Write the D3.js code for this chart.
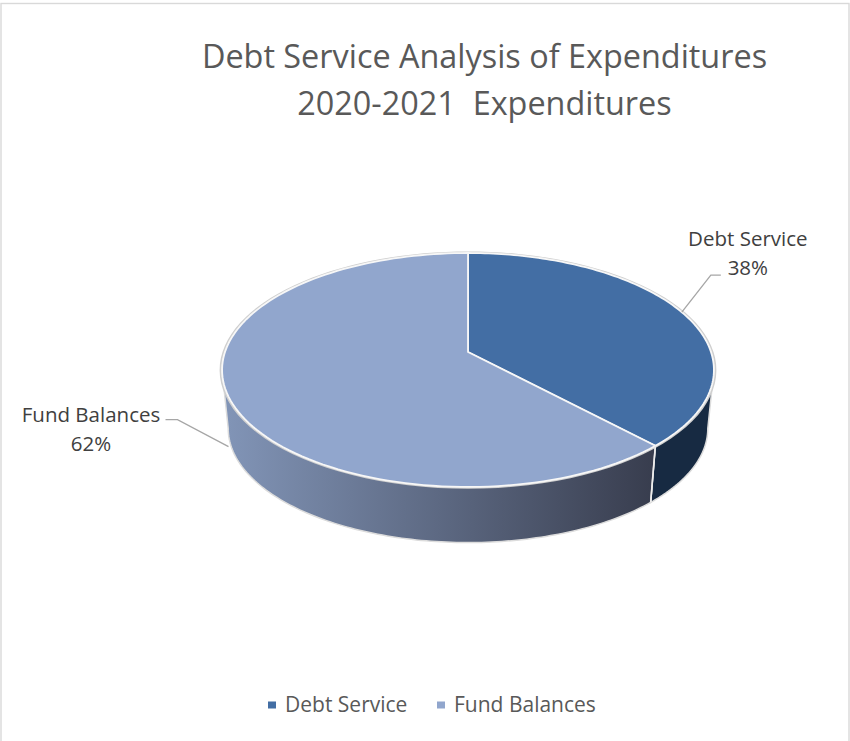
<!DOCTYPE html>
<html>
<head>
<meta charset="utf-8">
<script src="https://d3js.org/d3.v7.min.js"></script>
<style>
  html, body { margin: 0; padding: 0; background: #fff; overflow: hidden; }
  svg { display: block; }
  text { font-family: "Open Sans", sans-serif; }
</style>
</head>
<body>
<div id="chart"></div>
<script>
const categories = ["Debt Service", "Fund Balances"];
const shares = [38, 62];
const titleLines = ["Debt Service Analysis of Expenditures", "2020-2021  Expenditures"];
const sliceColors = ["#436ea4", "#91a6cd"];

const width = 850;
const height = 741;

const svg = d3.select("#chart").append("svg")
  .attr("width", width)
  .attr("height", height);

// chart frame, the bottom edge falls outside the picture
svg.append("rect")
  .attr("x", 1).attr("y", 3.5)
  .attr("width", 848).attr("height", 745)
  .attr("fill", "#fff").attr("stroke", "#d9d9d9").attr("stroke-width", 1.4);

svg.append("g").selectAll("text")
  .data(titleLines)
  .join("text")
  .attr("x", 484.5)
  .attr("y", (d, i) => 68 + i * 47)
  .attr("text-anchor", "middle")
  .attr("font-size", 32.4)
  .attr("fill", "#595959")
  .style("white-space", "pre")
  .text(d => d);

// perspective view of the disc: angle clockwise from the top -> screen point
const view = { cx: 468, cy: 352, R: 243, Ry: 114.2, k: 0.1538 };
function project(a, scale = 1, drop = 0) {
  const u = Math.sin(a), v = Math.cos(a), w = 1 + view.k * v;
  return [view.cx + scale * view.R * u / w, view.cy + drop - scale * view.Ry * v / w];
}
const rimSpan = (a0, a1, scale, drop) =>
  d3.range(0, 121).map(i => project(a0 + (a1 - a0) * i / 120, scale, drop));

const line = d3.line();
const pie = d3.pie().sort(null).value(d => d);
const slices = pie(shares);

const wallScale = 0.975;
const wallDrop = 59;
const leftEdge = 2 * Math.PI - Math.acos(-view.k);
const rightEdge = Math.acos(-view.k);
const seam = slices[0].endAngle;

const defs = svg.append("defs");
const grad = defs.append("linearGradient")
  .attr("id", "wallGrad")
  .attr("gradientUnits", "userSpaceOnUse")
  .attr("x1", view.cx - 240).attr("x2", view.cx + 185)
  .attr("y1", 0).attr("y2", 0);
grad.append("stop").attr("offset", 0).attr("stop-color", "#8194b6");
grad.append("stop").attr("offset", 1).attr("stop-color", "#383d4e");

function wallPath(a0, a1) {
  return line(rimSpan(a0, a1, 1, 0).concat(rimSpan(a1, a0, wallScale, wallDrop))) + "Z";
}

// walls
svg.append("path")
  .attr("d", wallPath(rightEdge, seam))
  .attr("fill", "#172a42")
  .attr("stroke", "#dcdcdc").attr("stroke-width", 1.5);
svg.append("path")
  .attr("d", wallPath(seam, leftEdge))
  .attr("fill", "url(#wallGrad)")
  .attr("stroke", "#dcdcdc").attr("stroke-width", 1.5);

// top faces
svg.append("path")
  .attr("d", line(rimSpan(0, 2 * Math.PI, 1.006, 0)) + "Z")
  .attr("fill", "none")
  .attr("stroke", "#cfcfcf").attr("stroke-width", 2);

svg.append("g").selectAll("path")
  .data(slices)
  .join("path")
  .attr("d", d => line([[view.cx, view.cy]].concat(rimSpan(d.startAngle, d.endAngle, 1, 0))) + "Z")
  .attr("fill", (d, i) => sliceColors[i])
  .attr("stroke", "#f7f7f7")
  .attr("stroke-width", 1.8)
  .attr("stroke-linejoin", "round");

// white seam running down the wall
svg.append("path")
  .attr("d", line([project(seam), project(seam, wallScale, wallDrop)]))
  .attr("stroke", "#ececec").attr("stroke-width", 1.6);

// leader lines and data labels
const labelLayout = [
  { drop: 0, dx: 29, dy: -37, run: 10, tx: 66, ty: -66, gap: 28.5 },
  { drop: 50, dx: -51, dy: -27, run: -12, tx: -137.5, ty: -25, gap: 29 }
];
const labels = svg.append("g");
slices.forEach((d, i) => {
  const mid = (d.startAngle + d.endAngle) / 2;
  const p = project(mid, 1, labelLayout[i].drop);
  const o = labelLayout[i];
  labels.append("path")
    .attr("d", line([p, [p[0] + o.dx, p[1] + o.dy], [p[0] + o.dx + o.run, p[1] + o.dy]]))
    .attr("fill", "none")
    .attr("stroke", "#a6a6a6").attr("stroke-width", 1.3);
  [categories[i], shares[i] + "%"].forEach((t, j) => {
    labels.append("text")
      .attr("x", p[0] + o.tx)
      .attr("y", p[1] + o.ty + j * o.gap)
      .attr("text-anchor", "middle")
      .attr("font-size", 20.5)
      .attr("fill", "#404040")
      .text(t);
  });
});

// legend
const legendX = [268, 437];
const legend = svg.append("g").selectAll("g")
  .data(categories)
  .join("g")
  .attr("transform", (d, i) => `translate(${legendX[i]},705)`);
legend.append("rect")
  .attr("x", 0).attr("y", -3.5)
  .attr("width", 8).attr("height", 7)
  .attr("fill", (d, i) => sliceColors[i]);
legend.append("text")
  .attr("x", 17).attr("y", 7)
  .attr("font-size", 21)
  .attr("fill", "#595959")
  .text(d => d);
</script>
</body>
</html>
